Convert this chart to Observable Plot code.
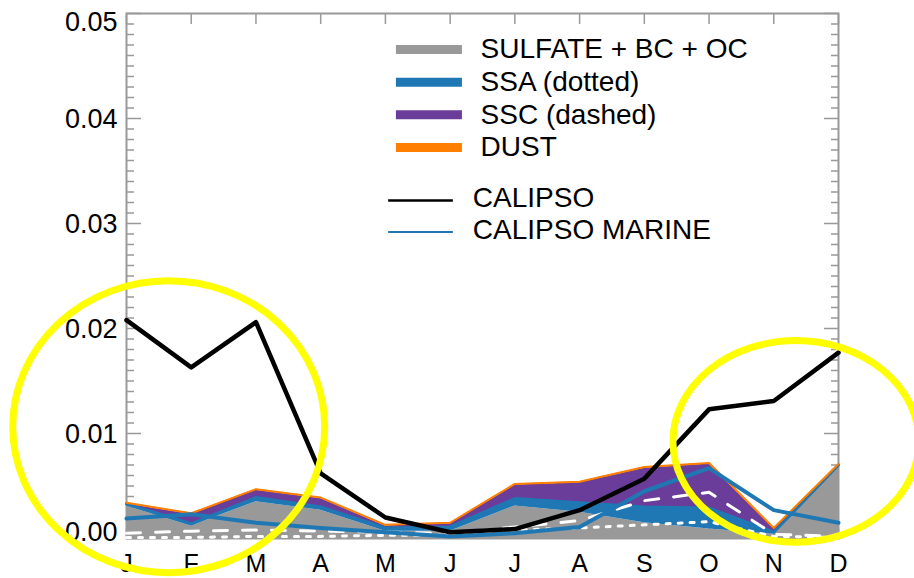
<!DOCTYPE html>
<html>
<head>
<meta charset="utf-8">
<script src="https://cdn.jsdelivr.net/npm/d3@7"></script>
<script src="https://cdn.jsdelivr.net/npm/@observablehq/plot@0.6"></script>
<style>
  body { margin: 0; background: #fff; }
  #chart svg { display: block; font-family: "Liberation Sans", Arial, Helvetica, sans-serif; }
</style>
</head>
<body>
<div id="chart"></div>
<script>
// ---- data ----
const months = ["J","F","M","A","M","J","J","A","S","O","N","D"];
const sulfateBcOc = [0.0031, 0.0012, 0.0035, 0.0027, 0.0007, 0.0007, 0.0031, 0.0025, 0.0015, 0.0009, 0.0004, 0.0069];
const ssa         = [0.0002, 0.0002, 0.0004, 0.0003, 0.0003, 0.0004, 0.0007, 0.0009, 0.0015, 0.0020, 0.0002, 0.0001];
const ssc         = [0.0000, 0.0009, 0.0007, 0.0008, 0.0002, 0.0003, 0.0013, 0.0019, 0.0037, 0.0042, 0.0003, 0.0000];
const dust        = [0.0001, 0.0001, 0.0001, 0.0001, 0.0001, 0.0001, 0.0001, 0.0001, 0.0001, 0.0001, 0.0001, 0.0001];
const ssaDotted   = [0.0001, 0.0001, 0.0002, 0.0002, 0.0003, 0.0003, 0.0008, 0.0010, 0.0013, 0.0016, 0.0002, 0.0001];
const sscDashed   = [0.0005, 0.0007, 0.0008, 0.0007, 0.0006, 0.0005, 0.0011, 0.0017, 0.0036, 0.0044, 0.0004, 0.0002];
const calipso       = [0.0208, 0.0163, 0.0206, 0.0062, 0.0020, 0.0006, 0.0009, 0.0027, 0.0057, 0.0123, 0.0131, 0.0177];
const calipsoMarine = [0.0019, 0.0023, 0.0015, 0.0010, 0.0006, 0.0002, 0.0005, 0.0011, 0.0045, 0.0067, 0.0027, 0.0015];
const yTicks = [0, 0.01, 0.02, 0.03, 0.04, 0.05];
const components = ["SULFATE + BC + OC", "SSA (dotted)", "SSC (dashed)", "DUST"];
const lineLabels = ["CALIPSO", "CALIPSO MARINE"];
const seriesColors = ["#999999", "#1f78b4", "#6a3d9a", "#ff7f00", "#000000", "#1f78b4"];

// ---- derived tables ----
const compValues = [sulfateBcOc, ssa, ssc, dust];
const stackRows = components.flatMap((c, k) => compValues[k].map((v, i) => ({month: i, comp: c, value: v})));
const sPlusA = months.map((_, i) => sulfateBcOc[i] + ssa[i]);
const total = months.map((_, i) => sulfateBcOc[i] + ssa[i] + ssc[i] + dust[i]);
const minorTicks = d3.range(51).filter(i => i % 10 !== 0).map(i => i / 1000);
const monthIdx = d3.range(months.length);

// legend rows (in data units of the plot)
const legendAreaRows = components.map((c, i) => ({label: c, y: 0.04657 - i * 0.00311}));
const legendLineRows = lineLabels.map((c, i) => ({label: c, y: 0.03219 - i * 0.00300}));

// highlight ellipses (annotation), in data units
const highlights = [
  {month: 0.66, value: 0.0106, rxMonths: 2.41, ryValue: 0.0139},
  {month: 10.35, value: 0.0092, rxMonths: 1.90, ryValue: 0.0096}
];

const axisColor = "#999999";
const fmt = d3.format(".2f");
const yLabelOpts = {frameAnchor: "left", dx: -9, textAnchor: "end", lineAnchor: "middle", fontSize: 27, fill: "black", text: d => fmt(d)};

const plot = Plot.plot({
  width: 914,
  height: 578,
  marginTop: 13,
  marginBottom: 40,
  marginLeft: 126,
  marginRight: 76,
  style: {fontFamily: '"Liberation Sans", Arial, Helvetica, sans-serif', background: "white", color: "black"},
  x: {domain: [0, 11], axis: null},
  y: {domain: [0, 0.05], axis: null},
  color: {domain: [...components, ...lineLabels], range: seriesColors},
  marks: [
    // axes / frame (drawn first, areas cover them)
    Plot.frame({stroke: axisColor, strokeWidth: 2}),
    Plot.axisY({anchor: "left", ticks: minorTicks, tickSize: -8, fill: "none", stroke: axisColor, strokeWidth: 1.5, label: null}),
    Plot.axisY({anchor: "left", ticks: yTicks, tickSize: -15, fill: "none", stroke: axisColor, strokeWidth: 1.5, label: null}),
    Plot.axisY({anchor: "right", ticks: minorTicks, tickSize: -8, fill: "none", stroke: axisColor, strokeWidth: 1.5, label: null}),
    Plot.axisY({anchor: "right", ticks: yTicks, tickSize: -15, fill: "none", stroke: axisColor, strokeWidth: 1.5, label: null}),
    Plot.axisX({anchor: "top", ticks: monthIdx, tickSize: -10, fill: "none", stroke: axisColor, strokeWidth: 1.5, label: null}),
    Plot.axisX({anchor: "bottom", ticks: monthIdx, tickSize: -10, fill: "none", stroke: axisColor, strokeWidth: 1.5, label: null}),

    // stacked components
    Plot.areaY(stackRows, {x: "month", y: "value", fill: "comp", z: "comp"}),
    Plot.lineY(sPlusA, {x: (d, i) => i, y: d => d, stroke: seriesColors[1], strokeWidth: 3}),
    Plot.lineY(total, {x: (d, i) => i, y: d => d, stroke: seriesColors[3], strokeWidth: 2}),

    // individual SSA / SSC
    Plot.lineY(ssaDotted, {x: (d, i) => i, y: d => d, stroke: "white", strokeWidth: 3, strokeDasharray: "4,8"}),
    Plot.lineY(sscDashed, {x: (d, i) => i, y: d => d, stroke: "white", strokeWidth: 3, strokeDasharray: "14,15"}),

    // observations
    Plot.lineY(calipsoMarine, {x: (d, i) => i, y: d => d, stroke: seriesColors[5], strokeWidth: 4}),
    Plot.lineY(calipso, {x: (d, i) => i, y: d => d, stroke: seriesColors[4], strokeWidth: 4.5}),

    // tick labels
    Plot.text(yTicks.slice(1, -1), {...yLabelOpts, y: d => d, dy: 1}),
    Plot.text(yTicks.slice(-1), {...yLabelOpts, y: d => d, dy: 9}),
    Plot.text(yTicks.slice(0, 1), {...yLabelOpts, y: d => d, dy: -6}),
    Plot.text(months, {x: (d, i) => i, frameAnchor: "bottom", dy: 25, lineAnchor: "middle", fontSize: 25, fill: "black", text: d => d}),

    // legend
    Plot.ruleY(legendAreaRows, {y: "y", x1: () => 4.17, x2: () => 5.19, stroke: "label", strokeWidth: 9}),
    Plot.text(legendAreaRows, {y: "y", x: () => 5.47, text: "label", textAnchor: "start", lineAnchor: "middle", fontSize: 28, fill: "black"}),
    Plot.ruleY(legendLineRows, {y: "y", x1: () => 4.05, x2: () => 5.05, stroke: "label", strokeWidth: d => d.label === "CALIPSO" ? 2.5 : 2}),
    Plot.text(legendLineRows, {y: "y", x: () => 5.35, dy: -2, text: "label", textAnchor: "start", lineAnchor: "middle", fontSize: 28, fill: "black"})
  ]
});

document.getElementById("chart").appendChild(plot);

// yellow highlight ellipses, positioned through the plot's scales
const xs = plot.scale("x"), ys = plot.scale("y");
const svg = d3.select(plot);
for (const h of highlights) {
  const cx = xs.apply(h.month), cy = ys.apply(h.value);
  svg.append("ellipse")
    .attr("cx", cx)
    .attr("cy", cy)
    .attr("rx", xs.apply(h.month + h.rxMonths) - cx)
    .attr("ry", ys.apply(h.value - h.ryValue) - cy)
    .attr("fill", "none")
    .attr("stroke", "#ffff00")
    .attr("stroke-width", 7);
}
</script>
</body>
</html>
